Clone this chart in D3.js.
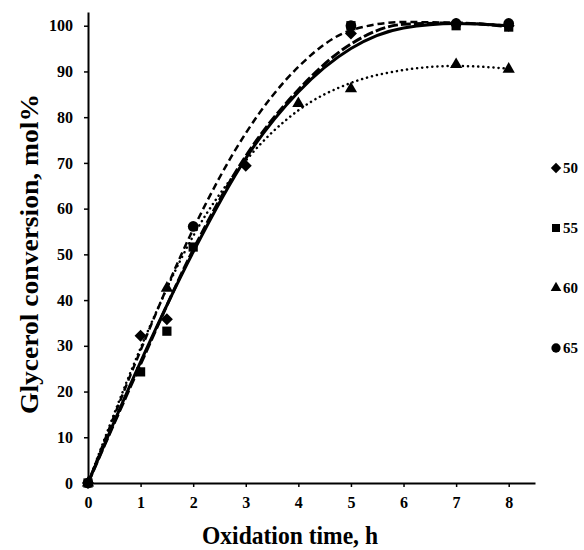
<!DOCTYPE html>
<html>
<head>
<meta charset="utf-8">
<script src="https://cdn.jsdelivr.net/npm/d3@7"></script>
<style>
  body { margin: 0; background: #fff; }
  svg text { font-family: 'Liberation Serif', 'Times New Roman', serif; font-weight: bold; fill: #000; }
</style>
</head>
<body>
<svg id="chart"></svg>
<script>
'use strict';

// values
const xTicks = [0, 1, 2, 3, 4, 5, 6, 7, 8];
const yTicks = [0, 10, 20, 30, 40, 50, 60, 70, 80, 90, 100];
const seriesNames = ['50', '55', '60', '65'];

// measured points (time h, conversion mol%)
const pts50 = [[0, 0], [1, 32.2], [1.5, 35.8], [3, 69.4], [5, 98.3], [7, 100.4], [8, 100]];
const pts55 = [[0, 0], [1, 24.3], [1.5, 33.2], [2, 51.6], [5, 100], [7, 100], [8, 99.7]];
const pts60 = [[0, 0], [1.5, 42.6], [4, 83], [5, 86.2], [7, 91.5], [8, 90.5]];
const pts65 = [[0, 0], [2, 56.1], [5, 100], [7, 100.5], [8, 100.5]];

// trend curves, read at each hour
const trendHours = [0, 1, 2, 3, 4, 5, 6, 7, 8];
const trend50 = [0, 26.5, 50.5, 71, 85.5, 95, 99.5, 100.5, 100];
const trend55 = [0, 26, 51, 71.5, 86, 96, 100.3, 100.6, 99.8];
const trend60 = [0, 29.5, 54, 70.5, 81.5, 87.5, 90.3, 91.2, 90.6];
const trend65 = [0, 29, 55.5, 76.5, 91, 99, 100.8, 100.6, 100];

(() => {

  const W = 584, H = 550;
  const svg = d3.select('#chart').attr('width', W).attr('height', H);

  const x = d3.scaleLinear().domain([0, 8.5]).range([88, 535]);
  const y = d3.scaleLinear().domain([0, 103]).range([483, 12]);

  //axes
  const xAxis = d3.axisBottom(x).tickValues(xTicks).tickSize(4).tickPadding(10).tickSizeOuter(0);
  const yAxis = d3.axisLeft(y).tickValues(yTicks).tickSize(4).tickPadding(11).tickSizeOuter(0);

  const gx = svg.append('g').attr('transform', `translate(0, ${y(0)})`).call(xAxis);
  const gy = svg.append('g').attr('transform', `translate(${x(0)}, 0)`).call(yAxis);
  [gx, gy].forEach((g) => {
    g.select('.domain').attr('stroke', '#000').attr('stroke-width', 2);
    g.selectAll('.tick line').attr('stroke', '#000').attr('stroke-width', 1.5);
    g.selectAll('.tick text')
      .attr('font-size', 16)
      .attr('font-family', "'Liberation Serif', serif")
      .attr('font-weight', 'bold');
  });

  //axis titles
  svg.append('text')
    .attr('x', 290)
    .attr('y', 544)
    .attr('text-anchor', 'middle')
    .attr('font-size', 26)
    .attr('textLength', 176)
    .attr('lengthAdjust', 'spacingAndGlyphs')
    .text('Oxidation time, h');
  svg.append('text')
    .attr('transform', 'translate(38, 254) rotate(-90)')
    .attr('text-anchor', 'middle')
    .attr('font-size', 26)
    .attr('textLength', 320)
    .attr('lengthAdjust', 'spacingAndGlyphs')
    .text('Glycerol conversion, mol%');

  //trend lines
  const trendLine = d3.line()
    .x((d, i) => x(trendHours[i]))
    .y((d) => y(d))
    .curve(d3.curveMonotoneX);
  const trends = [
    { v: trend50, w: 3, dash: null },
    { v: trend55, w: 3, dash: '10,3' },
    { v: trend60, w: 2.5, dash: '0.1,5' },
    { v: trend65, w: 2.5, dash: '7,4' }
  ];
  trends.forEach((t) => {
    svg.append('path')
      .datum(t.v)
      .attr('d', trendLine)
      .attr('fill', 'none')
      .attr('stroke', '#000')
      .attr('stroke-width', t.w)
      .attr('stroke-linecap', t.dash === '0.1,5' ? 'round' : 'butt')
      .attr('stroke-dasharray', t.dash);
  });

  //markers - diamond is a square turned 45deg
  const shapes = [d3.symbolSquare, d3.symbolSquare, d3.symbolTriangle, d3.symbolCircle];
  const turns = [45, 0, 0, 0];
  const sizes = [72, 85, 65, 90];
  const allPts = [pts50, pts55, pts60, pts65];
  allPts.forEach((pts, i) => {
    svg.append('g')
      .selectAll('path')
      .data(pts)
      .join('path')
      .attr('d', d3.symbol().type(shapes[i]).size(sizes[i]))
      .attr('transform', (d) => `translate(${x(d[0])}, ${y(d[1])}) rotate(${turns[i]})`)
      .attr('fill', '#000');
  });

  //legend
  const legY = d3.scalePoint().domain(seriesNames).range([168, 348]);
  seriesNames.forEach((s, i) => {
    const ly = legY(s);
    svg.append('path')
      .attr('d', d3.symbol().type(shapes[i]).size(sizes[i] * 0.75))
      .attr('transform', `translate(556, ${ly}) rotate(${turns[i]})`)
      .attr('fill', '#000');
    svg.append('text')
      .attr('x', 563)
      .attr('y', ly + 5)
      .attr('font-size', 15)
      .text(s);
  });

})();
</script>
</body>
</html>
